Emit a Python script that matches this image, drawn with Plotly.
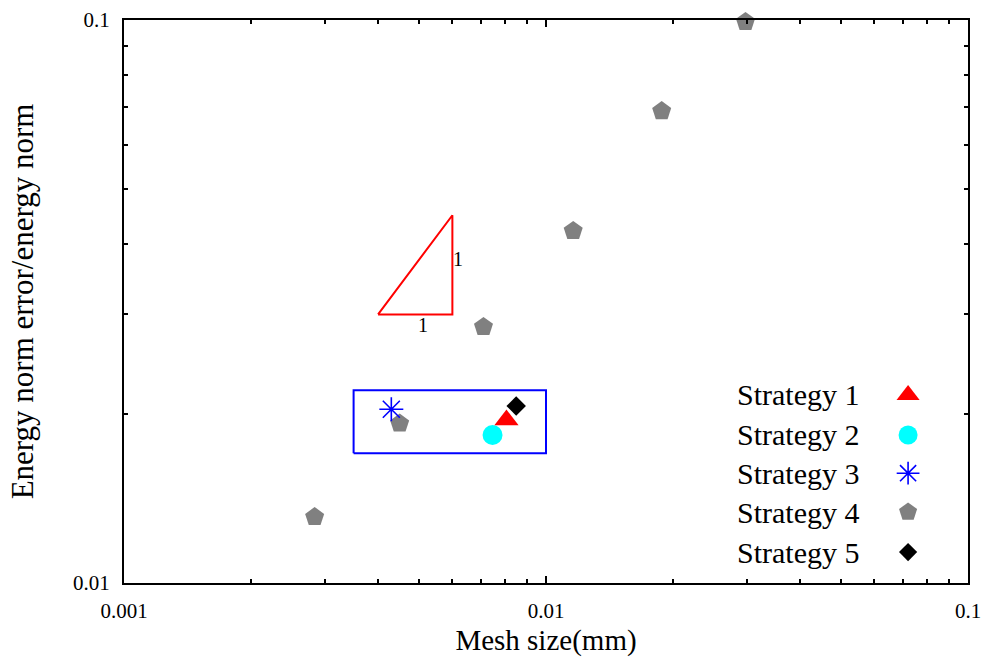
import plotly.graph_objects as go
import math

# ---- data ----
s1_x, s1_y = [0.00806], [0.01947]
s2_x, s2_y = [0.00747], [0.01832]
s3_x, s3_y = [0.0043], [0.02035]
s4_x = [0.00283, 0.0045, 0.00711, 0.0116, 0.0188, 0.0297]
s4_y = [0.0131, 0.0192, 0.0285, 0.0422, 0.0689, 0.0992]
s5_x, s5_y = [0.0085], [0.02062]

# slope triangle (slope 1)
tri_x = [0.004, 0.006, 0.006, 0.004]
tri_y = [0.03, 0.03, 0.045, 0.03]
# highlight box
box_x = [0.0035, 0.01, 0.01, 0.0035, 0.0035]
box_y = [0.017, 0.017, 0.022, 0.022, 0.017]

legend_names = ["Strategy 1", "Strategy 2", "Strategy 3", "Strategy 4", "Strategy 5"]
tick_vals_x = [0.001, 0.01, 0.1]
tick_text_x = ["0.001", "0.01", "0.1"]
tick_vals_y = [0.01, 0.1]
tick_text_y = ["0.01", "0.1"]

FONT = "Liberation Serif"

styles = [
    dict(symbol="triangle-up", size=21, color="#ff0000"),
    dict(symbol="circle", size=20, color="#00ffff"),
    dict(symbol="asterisk-open", size=20, color="#0000ff", line=dict(color="#0000ff", width=1.6)),
    dict(symbol="pentagon", size=20, color="#808080"),
    dict(symbol="diamond", size=15, color="#000000"),
]

fig = go.Figure()

fig.add_trace(go.Scatter(x=box_x, y=box_y, mode="lines",
                         line=dict(color="#0000ff", width=2), hoverinfo="skip"))
fig.add_trace(go.Scatter(x=tri_x, y=tri_y, mode="lines",
                         line=dict(color="#ff0000", width=2), hoverinfo="skip"))

series = [(s4_x, s4_y, 3), (s3_x, s3_y, 2), (s2_x, s2_y, 1), (s1_x, s1_y, 0), (s5_x, s5_y, 4)]
for xs, ys, i in series:
    st = styles[i]
    m = dict(symbol=st["symbol"], size=st["size"], color=st["color"])
    m["line"] = st.get("line", dict(width=0))
    fig.add_trace(go.Scatter(x=xs, y=ys, mode="markers", marker=m, name=legend_names[i],
                             cliponaxis=False))

# custom legend (text left, symbol right)
leg_y = [0.334, 0.263, 0.195, 0.126, 0.055]
for i, name in enumerate(legend_names):
    st = styles[i]
    m = dict(symbol=st["symbol"], size=st["size"] - 1, color=st["color"])
    m["line"] = st.get("line", dict(width=0))
    fig.add_trace(go.Scatter(x=[0.929], y=[leg_y[i]], mode="markers", marker=m,
                             xaxis="x2", yaxis="y2", hoverinfo="skip"))
    fig.add_annotation(x=0.724, y=leg_y[i], xref="paper", yref="paper", text=name,
                       showarrow=False, xanchor="left", yanchor="middle",
                       font=dict(family=FONT, size=30, color="black"))

# slope labels
fig.add_annotation(x=math.log10(0.0051), y=math.log10(0.0287), xref="x", yref="y", text="1",
                   showarrow=False, font=dict(family=FONT, size=20, color="black"))
fig.add_annotation(x=math.log10(0.00617), y=math.log10(0.0376), xref="x", yref="y", text="1",
                   showarrow=False, font=dict(family=FONT, size=20, color="black"))

axis_common = dict(
    type="log", showgrid=False, zeroline=False, showline=True, linecolor="black", linewidth=2,
    mirror="ticks", ticks="inside", ticklen=7, tickwidth=1.5, tickcolor="black",
    minor=dict(ticks="inside", ticklen=4, tickwidth=1.5, tickcolor="black", dtick="D1", showgrid=False),
    tickmode="array", automargin=False,
)

fig.update_layout(
    width=985, height=657,
    margin=dict(l=124, r=17, t=20, b=74),
    paper_bgcolor="white", plot_bgcolor="white",
    showlegend=False,
    xaxis=dict(axis_common, range=[-3, -1], tickvals=tick_vals_x, ticktext=tick_text_x,
               ticklabelstandoff=8,
               tickfont=dict(family=FONT, size=21, color="black"),
               title=dict(text="Mesh size(mm)", font=dict(family=FONT, size=29, color="black"), standoff=18)),
    yaxis=dict(axis_common, range=[-2, -1], tickvals=tick_vals_y, ticktext=tick_text_y,
               ticklabelstandoff=8,
               tickfont=dict(family=FONT, size=21, color="black"),
               title=dict(text="Energy norm error/energy norm", font=dict(family=FONT, size=31, color="black"), standoff=30)),
    xaxis2=dict(range=[0, 1], overlaying="x", visible=False),
    yaxis2=dict(range=[0, 1], overlaying="y", visible=False),
)

# remove the default page margin so the figure fills the window exactly
fig.write_html("out.html",
               config={"displayModeBar": False},
               post_script="document.body.style.margin='0';document.body.style.overflow='hidden';")
